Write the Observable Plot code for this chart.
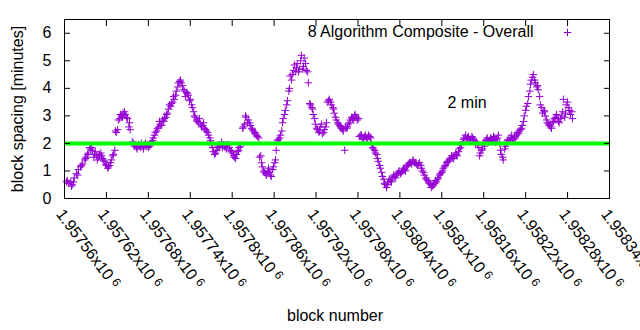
<!DOCTYPE html>
<html><head><meta charset="utf-8">
<script src="https://cdn.jsdelivr.net/npm/d3@7"></script>
<script src="https://cdn.jsdelivr.net/npm/@observablehq/plot@0.6"></script>
<style>body{margin:0;background:#fff} #chart svg{font-family:"Liberation Sans",Arial,sans-serif}</style>
</head><body><div id="chart"></div>
<script>
const blocks = [
1957563,1957566,1957569,1957571,1957574,1957577,1957580,1957583,1957586,1957589,
1957591,1957594,1957597,1957600,1957603,1957606,1957609,1957612,1957614,1957617,
1957620,1957623,1957626,1957629,1957632,1957633,1957636,1957639,1957642,1957644,
1957647,1957650,1957653,1957654,1957657,1957660,1957663,1957666,1957669,1957672,
1957674,1957677,1957680,1957683,1957686,1957689,1957692,1957695,1957697,1957700,
1957703,1957706,1957709,1957712,1957715,1957717,1957720,1957723,1957726,1957729,
1957732,1957735,1957737,1957740,1957743,1957746,1957749,1957752,1957755,1957758,
1957760,1957763,1957766,1957769,1957772,1957775,1957778,1957780,1957783,1957786,
1957789,1957792,1957795,1957798,1957800,1957803,1957806,1957809,1957812,1957815,
1957818,1957820,1957823,1957826,1957829,1957832,1957835,1957838,1957839,1957842,
1957845,1957848,1957851,1957853,1957856,1957859,1957862,1957865,1957868,1957871,
1957872,1957875,1957878,1957881,1957883,1957886,1957889,1957892,1957895,1957898,
1957901,1957903,1957906,1957909,1957912,1957915,1957918,1957921,1957924,1957926,
1957929,1957932,1957935,1957938,1957941,1957944,1957946,1957949,1957952,1957955,
1957958,1957961,1957964,1957966,1957969,1957972,1957975,1957978,1957981,1957984,
1957986,1957989,1957992,1957995,1957998,1958001,1958004,1958007,1958009,1958012,
1958015,1958018,1958021,1958024,1958027,1958029,1958032,1958035,1958038,1958041,
1958044,1958047,1958049,1958052,1958055,1958058,1958061,1958064,1958067,1958070,
1958072,1958075,1958078,1958081,1958084,1958087,1958090,1958092,1958095,1958098,
1958101,1958104,1958107,1958110,1958112,1958115,1958118,1958121,1958124,1958127,
1958130,1958132,1958135,1958138,1958141,1958144,1958147,1958150,1958153,1958155,
1958158,1958161,1958164,1958167,1958170,1958173,1958175,1958178,1958181,1958184,
1958187,1958190,1958193,1958195,1958198,1958201,1958204,1958207,1958210,1958213,
1958215,1958218,1958221,1958224,1958227,1958230,1958233,1958236,1958238,1958241,
1958244,1958247,1958250,1958253,1958256,1958258,1958261,1958264,1958267,1958270,
1958273,1958276,1958278,1958281,1958284,1958287,
1957564,1957570,1957573,1957579,1957584,1957590,1957593,1957596,1957599,1957602,
1957604,1957607,1957610,1957613,1957616,1957619,1957622,1957624,1957627,1957630,
1957634,1957637,1957640,1957643,1957646,1957649,1957652,1957659,1957662,1957664,
1957667,1957670,1957673,1957676,1957679,1957682,1957685,1957687,1957690,1957693,
1957696,1957699,1957702,1957705,1957707,1957710,1957713,1957716,1957719,1957722,
1957725,1957727,1957730,1957733,1957736,1957739,1957742,1957745,1957747,1957750,
1957753,1957756,1957759,1957762,1957765,1957768,1957770,1957773,1957776,1957779,
1957782,1957785,1957788,1957790,1957793,1957796,1957799,1957802,1957805,1957808,
1957810,1957816,1957819,1957822,1957825,1957828,1957830,1957833,1957836,1957841,
1957843,1957846,1957849,1957852,1957855,1957858,1957861,1957863,1957866,1957869,
1957873,1957876,1957879,1957882,1957885,1957888,1957891,1957893,1957896,1957899,
1957902,1957905,1957908,1957911,1957914,1957916,1957919,1957922,1957925,1957928,
1957931,1957934,1957936,1957939,1957942,1957945,1957948,1957951,1957954,1957956,
1957959,1957962,1957965,1957968,1957971,1957974,1957976,1957979,1957982,1957985,
1957988,1957991,1957994,1957997,1957999,1958002,1958005,1958008,1958011,1958014,
1958017,1958019,1958022,1958025,1958028,1958031,1958034,1958037,1958039,1958042,
1958045,1958048,1958051,1958054,1958057,1958059,1958062,1958065,1958068,1958071,
1958074,1958077,1958080,1958082,1958085,1958088,1958091,1958094,1958097,1958100,
1958102,1958105,1958108,1958111,1958114,1958117,1958120,1958122,1958125,1958128,
1958131,1958134,1958137,1958140,1958143,1958145,1958148,1958151,1958154,1958157,
1958160,1958163,1958165,1958168,1958171,1958174,1958177,1958180,1958183,1958185,
1958188,1958191,1958194,1958197,1958200,1958203,1958205,1958208,1958211,1958214,
1958217,1958220,1958223,1958226,1958228,1958231,1958234,1958237,1958240,1958243,
1958246,1958248,1958251,1958254,1958257,1958260,1958263,1958266,1958268,1958271,
1958274,1958277,1958280,1958283,1958286
];
const spacing = [
0.6,0.55,0.6,0.5,0.75,0.9,1.05,1.15,1.25,1.4,
1.5,1.65,1.8,1.75,1.6,1.55,1.5,1.65,1.45,1.35,
1.2,1.15,1.3,1.55,1.75,2.45,2.5,2.9,3.0,3.1,
3.05,2.9,2.75,2.5,2.05,1.9,1.85,1.95,1.85,1.9,
1.95,1.9,1.85,2.0,2.1,2.3,2.45,2.6,2.7,2.85,
2.9,3.05,3.25,3.35,3.5,3.6,3.9,4.2,4.3,4.1,
3.9,3.85,3.75,3.6,3.3,3.0,2.85,2.75,2.7,2.65,
2.55,2.45,2.3,2.1,1.85,1.6,1.75,1.9,1.95,1.85,
1.9,1.8,1.95,1.75,1.65,1.5,1.6,1.75,1.9,2.55,
2.7,2.95,2.85,2.65,2.5,2.35,2.3,2.2,1.5,1.3,
1.0,0.9,1.0,0.95,0.8,1.15,1.4,2.1,2.2,2.45,
2.75,3.05,3.4,3.9,4.45,4.5,4.85,4.75,4.6,5.0,
4.7,5.1,4.65,4.2,3.4,3.25,2.9,2.55,2.4,2.6,
2.35,2.5,2.75,3.55,3.5,3.3,3.1,2.85,2.7,2.6,
2.5,1.75,2.55,2.7,2.85,2.9,3.0,2.95,2.9,2.3,
2.2,2.25,2.15,2.3,2.2,1.85,1.75,1.6,1.35,1.1,
0.8,0.55,0.4,0.6,0.65,0.75,0.8,0.85,0.95,0.9,
1.0,1.05,1.15,1.25,1.3,1.35,1.3,1.25,1.25,1.2,
1.0,0.85,0.7,0.6,0.5,0.45,0.55,0.6,0.75,0.9,
1.0,1.15,1.3,1.35,1.45,1.5,1.55,1.6,1.7,1.85,
2.05,2.2,2.15,2.25,2.15,2.2,2.1,2.05,1.85,1.65,
1.8,1.9,2.15,2.05,2.2,2.1,2.2,2.15,2.3,1.75,
1.5,1.8,2.0,2.15,2.2,2.1,2.25,2.3,2.35,2.5,
2.65,3.0,3.35,3.7,4.15,4.4,4.3,4.05,3.95,3.4,
3.1,3.15,2.85,2.7,2.6,2.75,2.9,3.05,2.8,2.9,
3.15,2.95,3.4,3.3,3.05,2.9,
0.65,0.45,0.6,0.85,1.2,1.45,1.6,1.85,1.85,1.5,
1.7,1.4,1.6,1.55,1.4,1.25,1.1,1.2,1.4,1.6,
2.4,2.85,3.05,2.95,3.15,2.95,2.6,2.0,1.95,1.8,
1.9,2.0,1.8,2.0,1.95,1.9,2.05,2.2,2.4,2.55,
2.8,2.65,2.8,2.95,3.1,3.4,3.45,3.7,3.75,4.05,
4.25,4.2,3.95,3.7,3.8,3.55,3.4,3.15,2.95,2.8,
2.9,2.6,2.75,2.5,2.4,2.2,1.95,1.7,1.65,1.85,
1.85,2.05,1.95,1.85,1.95,1.85,1.7,1.55,1.45,1.7,
1.85,2.6,3.0,2.75,2.75,2.55,2.45,2.4,2.25,1.55,
1.15,0.95,0.85,1.1,0.85,1.05,1.3,1.75,2.15,2.3,
2.9,3.2,3.55,4.0,4.3,4.65,4.6,4.9,4.7,5.2,
4.8,4.9,4.6,3.45,3.3,3.05,2.7,2.5,2.45,2.7,
2.4,2.6,3.5,3.6,3.4,3.25,2.95,2.75,2.65,2.55,
2.45,2.6,2.6,2.75,2.95,2.85,3.05,2.85,2.25,2.3,
2.15,2.3,2.2,2.25,2.0,1.8,1.65,1.45,1.2,0.95,
0.7,0.5,0.5,0.7,0.6,0.85,0.75,0.9,1.0,0.95,
1.1,1.0,1.2,1.3,1.25,1.4,1.3,1.2,1.3,1.1,
0.95,0.75,0.65,0.55,0.4,0.5,0.65,0.7,0.85,0.95,
1.1,1.2,1.35,1.4,1.55,1.45,1.65,1.55,1.8,1.95,
2.15,2.3,2.2,2.1,2.25,2.15,2.0,1.95,1.55,1.75,
2.0,2.1,2.2,2.1,2.15,2.25,2.05,2.2,2.0,1.6,
1.4,1.9,2.1,2.1,2.3,2.15,2.2,2.4,2.45,2.55,
2.8,3.2,3.45,3.9,4.3,4.5,4.2,4.1,3.7,3.3,
3.2,3.0,2.75,2.65,2.55,2.8,2.95,2.9,2.75,3.0,
3.6,3.1,3.5,3.2,3.15
];
const xTicks = [1957560,1957620,1957680,1957740,1957800,1957860,1957920,1957980,1958040,1958100,1958160,1958220,1958280,1958340];
const xTickLabels = ["1.95756x10","1.95762x10","1.95768x10","1.95774x10","1.9578x10","1.95786x10","1.95792x10","1.95798x10","1.95804x10","1.9581x10","1.95816x10","1.95822x10","1.95828x10","1.95834x10"];
const xTickExponent = "6";
const yTicks = [0,1,2,3,4,5,6];
const seriesName = "8 Algorithm Composite - Overall";
const targetMinutes = [2];
const targetLabel = "2 min";
const xTitle = "block number";
const yTitle = "block spacing [minutes]";

const data = blocks.map((b, i) => ({block: b, minutes: spacing[i]}));
const purple = "#9400d3";
const green = "#00ff00";
const fs = 16;

const chart = Plot.plot({
  width: 640, height: 330,
  marginLeft: 64, marginRight: 31, marginTop: 19, marginBottom: 132,
  style: {fontFamily: "'Liberation Sans', Arial, sans-serif", fontSize: fs + "px", color: "#000", background: "#fff", overflow: "visible"},
  x: {domain: [1957560, 1958340]},
  y: {domain: [0, 6.5]},
  marks: [
    Plot.dot(data, {x: "block", y: "minutes", symbol: "plus", r: 2.55, stroke: purple, strokeWidth: 1}),
    Plot.ruleY(targetMinutes, {stroke: green, strokeWidth: 4}),
    Plot.frame({stroke: "#000"}),
    Plot.axisY({anchor: "left", ticks: yTicks, tickSize: -6, fill: "none", label: null}),
    Plot.axisY({anchor: "right", ticks: yTicks, tickSize: -6, fill: "none", label: null}),
    Plot.axisY({anchor: "left", ticks: yTicks, tickSize: 0, tickPadding: 13, tickFormat: d => String(d), label: null, fontSize: fs}),
    Plot.axisX({anchor: "bottom", ticks: xTicks, tickSize: -6, fill: "none", label: null}),
    Plot.axisX({anchor: "top", ticks: xTicks, tickSize: -6, fill: "none", label: null}),
    Plot.text(xTicks, {x: d => d, text: (d, i) => xTickLabels[i], frameAnchor: "bottom", rotate: 53, textAnchor: "start", lineAnchor: "top", dy: 9, dx: 0, fontSize: fs}),
    Plot.text([yTitle], {text: d => d, frameAnchor: "left", textAnchor: "middle", lineAnchor: "middle", rotate: -90, dx: -47, fontSize: fs}),
    Plot.text([xTitle], {text: d => d, frameAnchor: "bottom", textAnchor: "middle", lineAnchor: "bottom", dy: 122, dx: -2, fontSize: fs}),
    Plot.text([seriesName], {text: d => d, frameAnchor: "top-right", textAnchor: "end", lineAnchor: "middle", dx: -76, dy: 12, fontSize: fs}),
    Plot.dot([seriesName], {frameAnchor: "top-right", dx: -42, dy: 13, symbol: "plus", r: 2.55, stroke: purple, strokeWidth: 1}),
    Plot.text([targetLabel], {text: d => d, frameAnchor: "top-left", textAnchor: "start", lineAnchor: "middle", dx: 383, dy: 83, fontSize: fs})
  ]
});

d3.select(chart).selectAll("text")
  .filter(function () { return xTickLabels.includes(this.textContent); })
  .each(function () {
    d3.select(this).append("tspan").attr("dx", 4).attr("dy", -4).attr("font-size", 12).text(xTickExponent);
  });

document.getElementById("chart").appendChild(chart);
</script>
</body></html>
